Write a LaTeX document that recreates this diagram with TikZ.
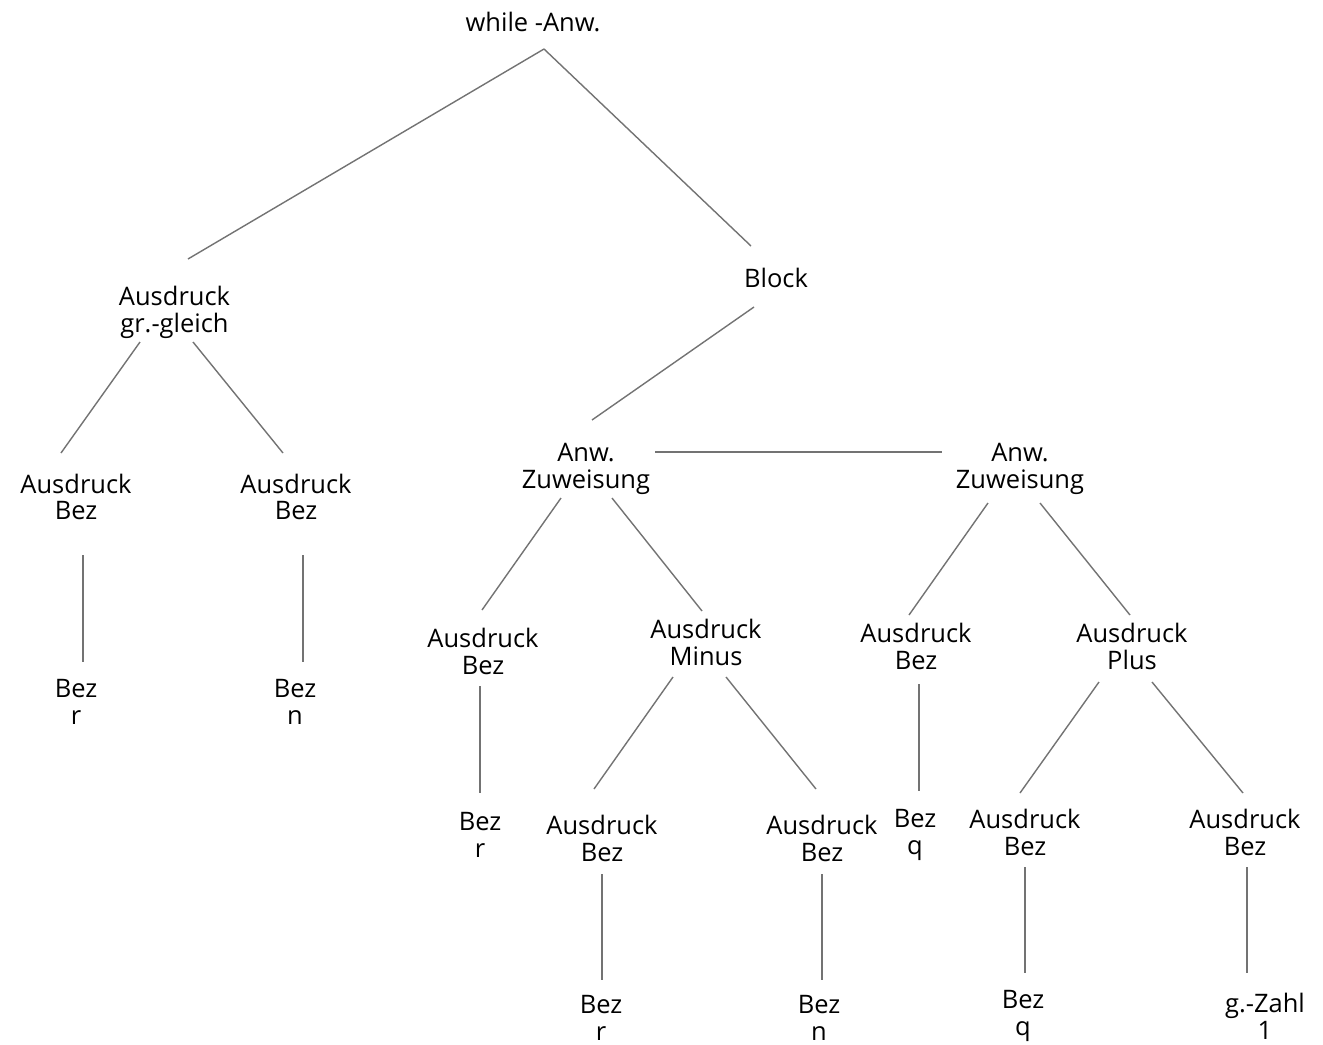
\documentclass[tikz,border=0pt]{standalone}
\usepackage{fontspec}
\setmainfont{Open Sans}
\usepackage{tikz}
\usetikzlibrary{calc}

\begin{document}
\begin{tikzpicture}[x=0.02cm,y=-0.02cm,
  lbl/.style={align=center,inner sep=0pt,font=\fontsize{14.5}{15.3}\selectfont},
  edge/.style={draw=black!55,line width=0.8pt}]
  \useasboundingbox (0,0) rectangle (1323,1045);
  \node[lbl] (wa) at (533,22) {while -Anw.};
  \node[lbl] (ag) at (174.5,312) {Ausdruck\\gr.-gleich};
  \node[lbl] (bl) at (776,278) {Block};
  \node[lbl] (az1) at (586,469) {Anw.\\Zuweisung};
  \node[lbl] (az2) at (1020,469) {Anw.\\Zuweisung};
  \node[lbl] (ab1) at (76,497) {Ausdruck\\Bez};
  \node[lbl] (ab2) at (296,497) {Ausdruck\\Bez};
  \node[lbl] (bz1) at (76,702) {Bez\\r};
  \node[lbl] (bz2) at (295,702) {Bez\\n};
  \node[lbl] (ab3) at (483,651) {Ausdruck\\Bez};
  \node[lbl] (am) at (706,642) {Ausdruck\\Minus};
  \node[lbl] (bz3) at (480,835) {Bez\\r};
  \node[lbl] (ab4) at (602,838) {Ausdruck\\Bez};
  \node[lbl] (ab5) at (822,838) {Ausdruck\\Bez};
  \node[lbl] (bz4) at (601,1018) {Bez\\r};
  \node[lbl] (bz5) at (819,1018) {Bez\\n};
  \node[lbl] (ab6) at (916,646) {Ausdruck\\Bez};
  \node[lbl] (ap) at (1132,646) {Ausdruck\\Plus};
  \node[lbl] (bz6) at (915,835) {Bez\\q};
  \node[lbl] (ab7) at (1025,832) {Ausdruck\\Bez};
  \node[lbl] (ab8) at (1245,832) {Ausdruck\\Bez};
  \node[lbl] (bz7) at (1023,1016) {Bez\\q};
  \node[lbl] (gz) at (1265,1016) {g.-Zahl\\1};
  % top levels
  \draw[edge] ($(wa)+(11,27)$) -- ($(ag)+(13.5,-53)$);
  \draw[edge] ($(wa)+(11,27)$) -- ($(bl)+(-25,-32)$);
  \draw[edge] ($(ag)+(-34.5,30)$) -- ($(ab1)+(-15,-44)$);
  \draw[edge] ($(ag)+(18.5,30)$) -- ($(ab2)+(-13,-44)$);
  \draw[edge] ($(ab1)+(7,58)$) -- ($(bz1)+(7,-40)$);
  \draw[edge] ($(ab2)+(7,58)$) -- ($(bz2)+(8,-40)$);
  \draw[edge] ($(bl)+(-22,29)$) -- ($(az1)+(6,-49)$);
  \draw[edge] ($(az1)+(69,-17)$) -- ($(az2)+(-78,-17)$);
  % first Zuweisung
  \draw[edge] ($(az1)+(-25,29)$) -- ($(ab3)+(-1,-41)$);
  \draw[edge] ($(az1)+(26,29)$) -- ($(am)+(-4,-31)$);
  \draw[edge] ($(ab3)+(-3,35)$) -- ($(bz3)+(0,-42)$);
  \draw[edge] ($(am)+(-33,35)$) -- ($(ab4)+(-8,-49)$);
  \draw[edge] ($(am)+(20,35)$) -- ($(ab5)+(-6,-49)$);
  \draw[edge] ($(ab4)+(0,36)$) -- ($(bz4)+(1,-38)$);
  \draw[edge] ($(ab5)+(0,36)$) -- ($(bz5)+(3,-38)$);
  % second Zuweisung
  \draw[edge] ($(az2)+(-32,34)$) -- ($(ab6)+(-7,-31)$);
  \draw[edge] ($(az2)+(20,34)$) -- ($(ap)+(-2,-31)$);
  \draw[edge] ($(ab6)+(3,38)$) -- ($(bz6)+(4,-44)$);
  \draw[edge] ($(ap)+(-33,36)$) -- ($(ab7)+(-5,-39)$);
  \draw[edge] ($(ap)+(20,36)$) -- ($(ab8)+(-2,-39)$);
  \draw[edge] ($(ab7)+(0,35)$) -- ($(bz7)+(2,-43)$);
  \draw[edge] ($(ab8)+(2,35)$) -- ($(gz)+(-18,-43)$);
\end{tikzpicture}
\end{document}
